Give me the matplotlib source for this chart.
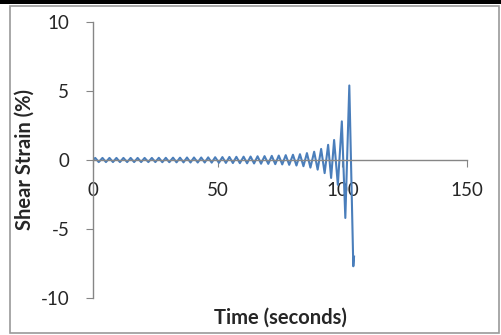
import matplotlib
matplotlib.use("Agg")
import matplotlib.pyplot as plt
from matplotlib.patches import Rectangle

# peaks / troughs of the shear strain record
time_s = [0.0, 0.9, 2.3, 3.8, 5.2, 6.6, 8.0, 9.4, 10.8, 12.2, 13.7, 15.1, 16.5,
          17.9, 19.3, 20.7, 22.2, 23.6, 25.0, 26.4, 27.8, 29.2, 30.6, 32.1,
          33.5, 34.9, 36.3, 37.7, 39.1, 40.5, 42.0, 43.4, 44.8, 46.2, 47.6,
          49.0, 50.5, 51.9, 53.3, 54.7, 56.1, 57.5, 58.9, 60.4, 61.8, 63.2,
          64.6, 66.0, 67.4, 68.8, 70.3, 71.7, 73.1, 74.5, 75.9, 77.3, 78.7,
          80.2, 81.6, 83.0, 84.4, 85.8, 87.2, 88.7, 90.1, 91.5, 92.9, 94.3,
          95.5, 96.7, 98.2, 99.8, 101.2, 102.8, 104.4, 104.7]
strain = [0.0, 0.15, -0.15, 0.15, -0.15, 0.15, -0.15, 0.15, -0.15, 0.15, -0.15,
          0.15, -0.15, 0.15, -0.15, 0.15, -0.15, 0.15, -0.15, 0.16, -0.16, 0.16,
          -0.16, 0.17, -0.17, 0.17, -0.17, 0.18, -0.18, 0.18, -0.18, 0.18, -0.18,
          0.19, -0.19, 0.2, -0.2, 0.21, -0.21, 0.22, -0.22, 0.23, -0.23, 0.24,
          -0.24, 0.25, -0.25, 0.27, -0.27, 0.28, -0.28, 0.3, -0.3, 0.32, -0.32,
          0.35, -0.35, 0.38, -0.4, 0.42, -0.45, 0.5, -0.55, 0.6, -0.7, 0.8,
          -0.95, 1.1, -1.3, 1.45, -1.8, 2.8, -4.2, 5.4, -7.7, -7.0]

xticks = [0, 50, 100, 150]
yticks = [-10, -5, 0, 5, 10]

plt.rcParams['font.family'] = ['Lato', 'DejaVu Sans']
plt.rcParams['axes.unicode_minus'] = False
txt = '#262626'
axc = '#868686'

fig = plt.figure(figsize=(5.01, 3.35), dpi=100)
ax = fig.add_axes([93/501, 1-298/335, (467-93)/501, (298-22)/335])

ax.plot(time_s, strain, color='#4A7EBB', lw=1.5, solid_joinstyle='round')

ax.set_xlim(0, 150)
ax.set_ylim(-10, 10)
ax.set_xticks(xticks)
ax.set_yticks(yticks)

ax.spines['top'].set_visible(False)
ax.spines['right'].set_visible(False)
ax.spines['bottom'].set_position(('data', 0))
for s in ['left', 'bottom']:
    ax.spines[s].set_color(axc)
    ax.spines[s].set_linewidth(1.0)
ax.tick_params(axis='both', direction='out', length=5, color=axc,
               labelsize=13.5, labelcolor=txt)
ax.tick_params(axis='x', pad=11)
ax.tick_params(axis='y', pad=12)

ax.set_xlabel('Time (seconds)', fontsize=14.5, fontweight='bold', color=txt)
ax.xaxis.set_label_coords(0.5, -0.035)
ax.set_ylabel('Shear Strain (%)', fontsize=14.5, fontweight='bold', color=txt)
ax.yaxis.set_label_coords(-0.155, 0.5)

# chart border and black strip on top
fig.patches.append(Rectangle((10/501, 2/335), 489/501, 327/335, transform=fig.transFigure,
                             fill=False, edgecolor='#9a9a9a', lw=1.2))
fig.patches.append(Rectangle((0, 1-4/335), 1, 4/335, transform=fig.transFigure,
                             facecolor='black', edgecolor='none'))

fig.savefig('out.png', dpi=100)
